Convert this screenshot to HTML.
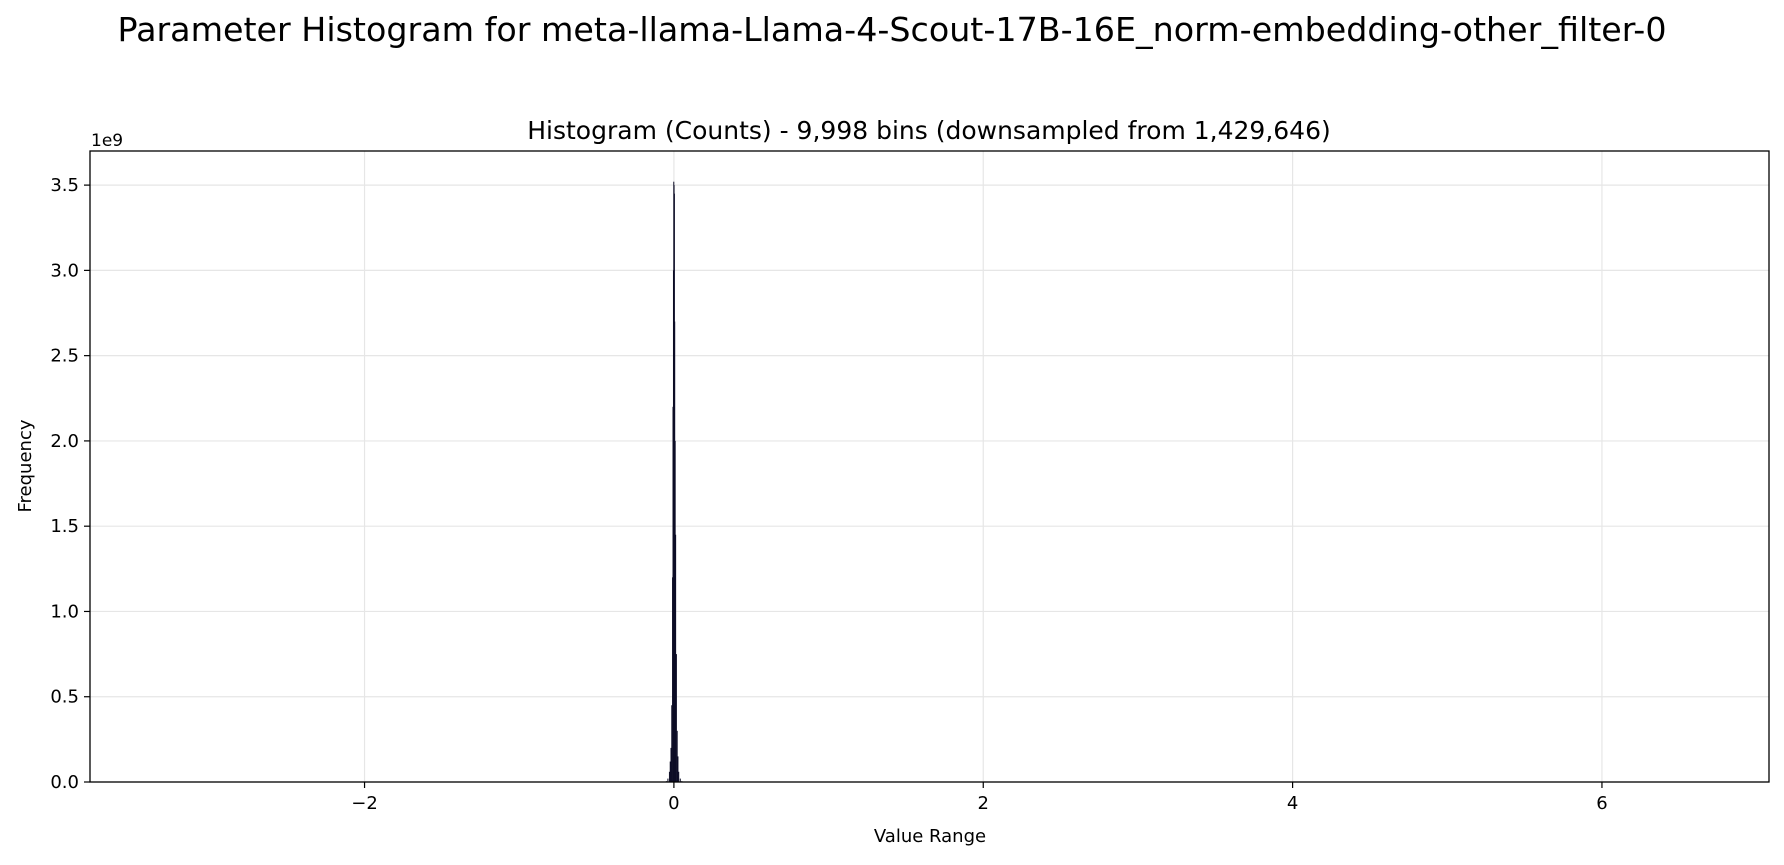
<!DOCTYPE html>
<html><head><meta charset="utf-8"><style>
body{margin:0;background:#fff;font-family:"Liberation Sans","DejaVu Sans",sans-serif}
</style></head><body>
<svg id="chart" width="1784" height="860" xmlns="http://www.w3.org/2000/svg" font-family="DejaVu Sans, Liberation Sans, sans-serif">
<rect width="1784" height="860" fill="#fff"/>
<text x="892" y="41" text-anchor="middle" font-size="33.3">Parameter Histogram for meta-llama-Llama-4-Scout-17B-16E_norm-embedding-other_filter-0</text>
<text x="929" y="139" text-anchor="middle" font-size="25">Histogram (Counts) - 9,998 bins (downsampled from 1,429,646)</text>
<g id="grid"></g><g id="bars"></g><g id="axes"></g>
<text x="930" y="842" text-anchor="middle" font-size="18">Value Range</text>
<text transform="translate(31,466) rotate(-90)" text-anchor="middle" font-size="18">Frequency</text>
<text x="91" y="146" font-size="17">1e9</text>
</svg>
<script>
const xTicks=[-2,0,2,4,6];
const yTicks=[0,0.5,1.0,1.5,2.0,2.5,3.0,3.5];
const binCenters=[-0.05,-0.04,-0.03,-0.025,-0.02,-0.015,-0.01,-0.007,-0.004,-0.002,0,0.002,0.004,0.007,0.01,0.015,0.02,0.025,0.03,0.04,0.05];
const binCounts=[0.005,0.02,0.06,0.12,0.2,0.45,1.2,2.2,3.0,3.52,3.5,3.45,2.7,2.0,1.45,0.75,0.3,0.15,0.06,0.02,0.005];
const binWidth=0.004;
const L=90,R=1769,T=151,B=782,xmin=-3.775,xmax=7.08,ymax=3.70;
const sx=v=>L+(v-xmin)/(xmax-xmin)*(R-L);
const sy=v=>B-v/ymax*(B-T);
const NS="http://www.w3.org/2000/svg";
function mk(p,t,a){const e=document.createElementNS(NS,t);for(const k in a)e.setAttribute(k,a[k]);p.appendChild(e);return e;}
const grid=document.getElementById('grid'),bars=document.getElementById('bars'),axes=document.getElementById('axes');
xTicks.forEach(v=>{
 const g=mk(grid,'line',{x1:sx(v),x2:sx(v),y1:T,y2:B,stroke:'#e6e6e6','stroke-width':1.2});
 
 
 const t=mk(axes,'line',{x1:sx(v),x2:sx(v),y1:B,y2:B+6,stroke:'#000','stroke-width':1.2});
 
 
 const l=mk(axes,'text',{x:sx(v),y:B+27,'text-anchor':'middle','font-size':18});
 
 
 l.textContent=v<0?'\u2212'+Math.abs(v):String(v);
});
yTicks.forEach(v=>{
 const g=mk(grid,'line',{x1:L,x2:R,y1:sy(v),y2:sy(v),stroke:'#e6e6e6','stroke-width':1.2});
 
 
 const t=mk(axes,'line',{x1:L-6,x2:L,y1:sy(v),y2:sy(v),stroke:'#000','stroke-width':1.2});
 
 
 const l=mk(axes,'text',{x:L-11,y:sy(v)+6,'text-anchor':'end','font-size':18});
 
 
 l.textContent=v.toFixed(1);
});
binCenters.forEach((c,i)=>{
 const x0=sx(c-binWidth/2),x1=sx(c+binWidth/2);
 const r=mk(bars,'rect',{x:x0,y:sy(binCounts[i]),width:Math.max(x1-x0,1),height:B-sy(binCounts[i]),fill:'#0d0d26'});
 
 
});
const f=mk(axes,'rect',{x:L,y:T,width:R-L,height:B-T,fill:'none',stroke:'#000','stroke-width':1.3});


</script>
</body></html>
